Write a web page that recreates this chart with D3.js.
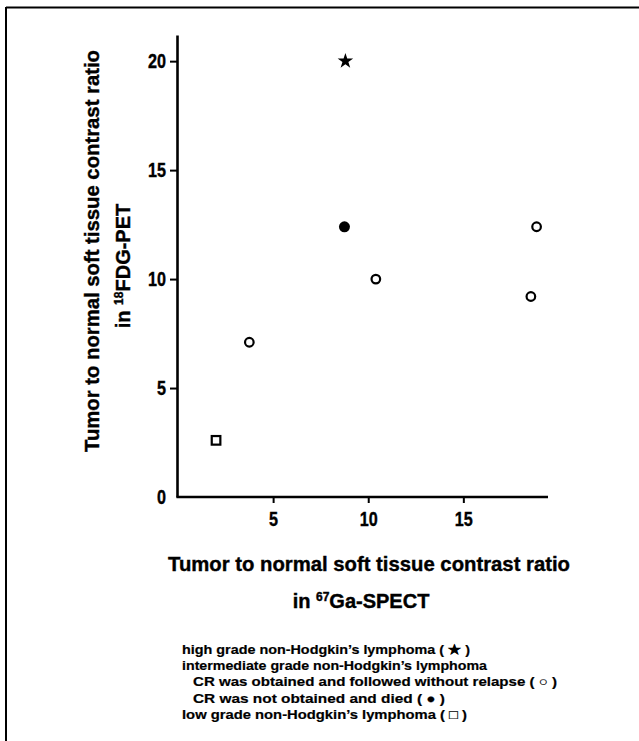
<!DOCTYPE html>
<html>
<head>
<meta charset="utf-8">
<script src="https://cdn.jsdelivr.net/npm/d3@7"></script>
<style>
  html, body { margin: 0; padding: 0; background: #fff; }
  svg { display: block; }
</style>
</head>
<body>
<script>
// ---- data ----
const starX = [8.8], starY = [20.0];                       // high grade
const openX = [3.75, 10.4, 18.55, 18.85], openY = [7.1, 10.0, 9.2, 12.4]; // intermediate, CR no relapse
const filledX = [8.75], filledY = [12.4];                  // intermediate, died
const squareX = [2.0], squareY = [2.6];                    // low grade
const xTicks = [5, 10, 15];
const yTicks = [0, 5, 10, 15, 20];
const legendLines = [
  "high grade non-Hodgkin\u2019s lymphoma ( \u2605 )",
  "intermediate grade non-Hodgkin\u2019s lymphoma",
  "CR was obtained and followed without relapse ( \u25CB )",
  "CR was not obtained and died ( \u25CF )",
  "low grade non-Hodgkin\u2019s lymphoma ( \u25A1 )"
];
const legendIndent = [0, 0, 1, 1, 0];
const legendWidths = [288, 305, 364, 252, 285];

const W = 639, H = 741;
const svg = d3.select("body").append("svg").attr("width", W).attr("height", H);

const sans = "'Liberation Sans', Arial, Helvetica, sans-serif";

// frame (top + left)
svg.append("line").attr("x1", 6).attr("x2", W).attr("y1", 7.5).attr("y2", 7.5)
  .attr("stroke", "#000").attr("stroke-width", 2);
svg.append("line").attr("x1", 6).attr("x2", 6).attr("y1", 7).attr("y2", H)
  .attr("stroke", "#000").attr("stroke-width", 2);

const x = d3.scaleLinear().domain([0, 19.45]).range([178, 548]);
const y = d3.scaleLinear().domain([0, 21.2]).range([497, 35]);

// x axis
const gx = svg.append("g").attr("transform", `translate(0,${y(0)})`)
  .call(d3.axisBottom(x).tickValues(xTicks).tickSize(6).tickSizeOuter(0).tickPadding(9));
gx.select(".domain").attr("d", `M${x(0) - 1.5},0H${x(19.45)}`);
// y axis
const gy = svg.append("g").attr("transform", `translate(${x(0) - 1},0)`)
  .call(d3.axisLeft(y).tickValues(yTicks).tickSize(7).tickSizeOuter(0).tickPadding(4));

[gx, gy].forEach(g => {
  g.select(".domain").attr("stroke", "#000").attr("stroke-width", 2.6);
  g.selectAll(".tick line").attr("stroke", "#000").attr("stroke-width", 2);
  g.selectAll(".tick text").attr("fill", "#000")
    .style("font-family", sans).style("font-weight", "bold").style("font-size", "20px")
    .attr("stroke", "#000").attr("stroke-width", 0.4)
    .attr("textLength", d => String(d).length * 9)
    .attr("lengthAdjust", "spacingAndGlyphs");
});
gy.selectAll(".tick").filter(d => d === 0).select("line").remove();

// y axis title
const yt = svg.append("g").attr("transform", "rotate(-90)")
  .style("font-family", sans).style("font-weight", "bold").style("font-size", "21px")
  .attr("fill", "#000").attr("stroke", "#000").attr("stroke-width", 0.4);
yt.append("text").attr("x", -251).attr("y", 99).attr("text-anchor", "middle")
  .attr("textLength", 402).attr("lengthAdjust", "spacingAndGlyphs")
  .text("Tumor to normal soft tissue contrast ratio");
const yt2 = yt.append("text").attr("x", -266).attr("y", 130).attr("text-anchor", "middle")
  .style("font-size", "20px");
yt2.append("tspan").text("in ");
yt2.append("tspan").style("font-size", "12px").attr("baseline-shift", "super").text("18");
yt2.append("tspan").text("FDG-PET");

// x axis title
const xt = svg.append("g")
  .style("font-family", sans).style("font-weight", "bold").style("font-size", "21px")
  .attr("fill", "#000").attr("stroke", "#000").attr("stroke-width", 0.4);
xt.append("text").attr("x", 369).attr("y", 571).attr("text-anchor", "middle")
  .attr("textLength", 402).attr("lengthAdjust", "spacingAndGlyphs")
  .text("Tumor to normal soft tissue contrast ratio");
const xt2 = xt.append("text").attr("x", 361).attr("y", 608).attr("text-anchor", "middle")
  .style("font-size", "20px");
xt2.append("tspan").text("in ");
xt2.append("tspan").style("font-size", "12px").attr("baseline-shift", "super").text("67");
xt2.append("tspan").text("Ga-SPECT");

// points
const pts = svg.append("g");
pts.selectAll("path.star").data(d3.zip(starX, starY)).join("path")
  .attr("class", "star")
  .attr("transform", d => `translate(${x(d[0])},${y(d[1])})`)
  .attr("d", d3.symbol(d3.symbolStar, 75)).attr("fill", "#000");
pts.selectAll("circle.open").data(d3.zip(openX, openY)).join("circle")
  .attr("class", "open").attr("cx", d => x(d[0])).attr("cy", d => y(d[1])).attr("r", 4.3)
  .attr("fill", "#fff").attr("stroke", "#000").attr("stroke-width", 2.2);
pts.selectAll("circle.filled").data(d3.zip(filledX, filledY)).join("circle")
  .attr("class", "filled").attr("cx", d => x(d[0])).attr("cy", d => y(d[1])).attr("r", 5.5)
  .attr("fill", "#000");
pts.selectAll("rect.sq").data(d3.zip(squareX, squareY)).join("rect")
  .attr("class", "sq").attr("x", d => x(d[0]) - 4.3).attr("y", d => y(d[1]) - 4.3)
  .attr("width", 8.6).attr("height", 8.6)
  .attr("fill", "#fff").attr("stroke", "#000").attr("stroke-width", 2.2);

// legend
const lg = svg.append("g")
  .style("font-family", sans).style("font-weight", "bold").style("font-size", "13px")
  .attr("fill", "#000").attr("stroke", "#000").attr("stroke-width", 0.2);
lg.selectAll("text").data(legendLines).join("text")
  .attr("x", (d, i) => 182 + legendIndent[i] * 11)
  .attr("y", (d, i) => 654 + i * 16.2)
  .attr("textLength", (d, i) => legendWidths[i])
  .attr("lengthAdjust", "spacingAndGlyphs")
  .text(d => d);
</script>
</body>
</html>
